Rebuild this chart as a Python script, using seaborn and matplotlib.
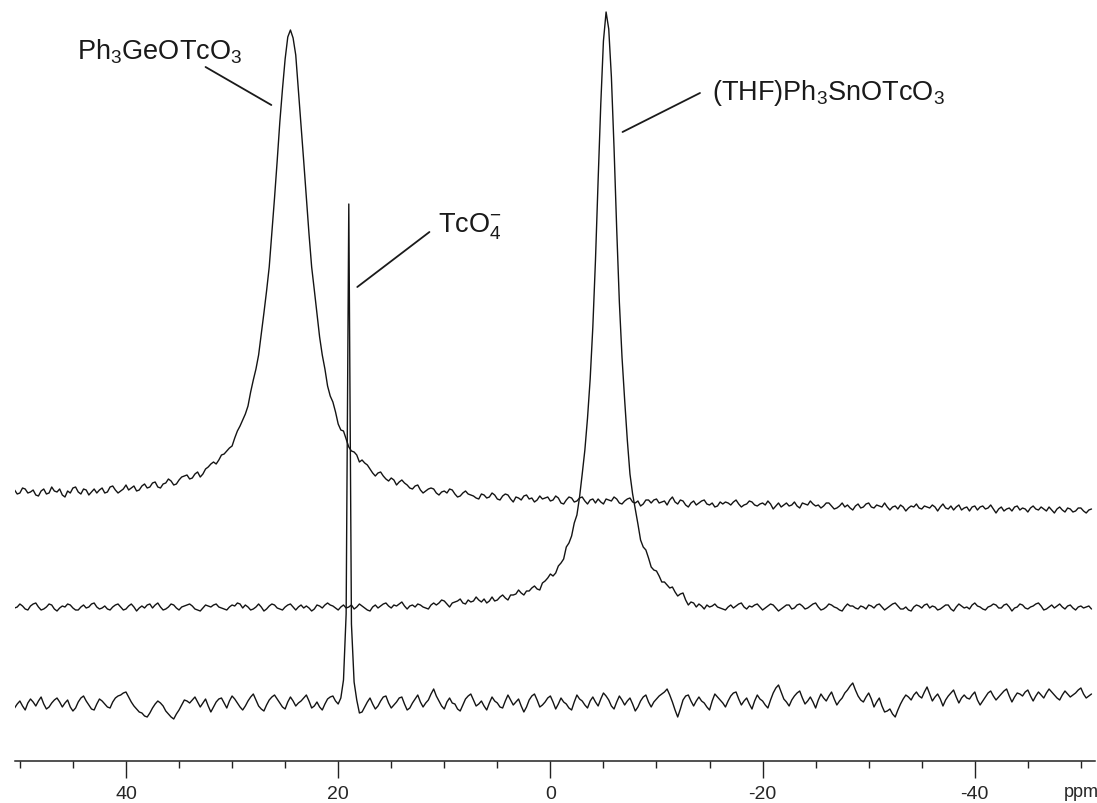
import numpy as np
import pandas as pd
import matplotlib
matplotlib.use("Agg")
import matplotlib.pyplot as plt
import seaborn as sns

# --- spectra (px above each trace's own baseline)
# *_TRACE: samples every 0.5 ppm from 50.5 ppm; *_MID: the samples between them
PPM_START = 50.5
PPM_STEP = -0.5

GE_TRACE = [
    5, 2, 6, 3, 0, 4, 1, 8, 3, 0,
    4, 7, 3, 6, 0, 6, 5, 2, 8, 5,
    4, 10, 7, 4, 9, 7, 12, 8, 11, 16,
    10, 15, 19, 16, 21, 18, 26, 31, 31, 40,
    44, 49, 64, 75, 89, 115, 140, 182, 228, 297,
    373, 436, 465, 440, 369, 297, 228, 181, 140, 109,
    93, 71, 64, 48, 43, 33, 32, 26, 19, 23,
    16, 17, 10, 15, 10, 6, 10, 2, 6, 6,
    0, 4, 6, 1, -1, 4, 0, -3, 1, -3,
    2, -4, -1, 0, -7, -3, -1, -4, -7, -1,
    -3, -6, -1, -8, -5, -3, -6, -2, -9, -4,
    -4, -9, -5, -2, -8, -6, -3, -8, -11, -5,
    -8, -4, -7, -10, -2, -9, -6, -12, -6, -8,
    -5, -10, -12, -7, -7, -10, -5, -12, -9, -7,
    -11, -8, -6, -14, -8, -10, -11, -7, -13, -9,
    -6, -11, -13, -8, -11, -13, -8, -10, -15, -9,
    -12, -8, -13, -11, -8, -15, -11, -10, -16, -11,
    -9, -14, -12, -10, -16, -9, -14, -15, -10, -13,
    -16, -11, -12, -14, -10, -18, -12, -14, -16, -11,
    -13, -17, -11, -15, -14, -12, -18, -12, -17, -14,
    -16, -13, -18, -14,
]
GE_MID = [
    1, 7, 2, 5, -1, 6, 2, 4, 6, -2,
    2, 8, 1, 5, 3, 2, 7, 3, 9, 2,
    6, 5, 9, 5, 11, 8, 13, 7, 12, 14,
    11, 18, 20, 17, 23, 21, 28, 33, 35, 41,
    47, 57, 69, 81, 103, 126, 161, 204, 262, 334,
    406, 458, 457, 405, 334, 261, 205, 158, 126, 99,
    83, 65, 56, 44, 40, 35, 30, 22, 22, 19,
    14, 15, 13, 12, 7, 9, 5, 4, 7, 2,
    3, 2, 5, -2, 2, 1, -1, -4, 0, -2,
    0, -5, 1, -4, -2, -5, 0, -3, -5, -4,
    -2, -5, -3, -9, -2, -7, -3, -6, -5, -8,
    -7, -4, -6, -4, -9, -4, -7, -6, -9, -5,
    -5, -8, -6, -5, -7, -5, -10, -8, -10, -6,
    -9, -8, -11, -9, -8, -7, -9, -10, -6, -10,
    -9, -10, -9, -11, -12, -8, -10, -11, -8, -10,
    -9, -10, -11, -8, -14, -11, -12, -13, -11, -13,
    -9, -12, -10, -12, -12, -12, -14, -12, -13, -12,
    -13, -11, -13, -12, -12, -13, -11, -12, -15, -12,
    -12, -15, -11, -13, -14, -14, -16, -13, -12, -15,
    -14, -13, -14, -12, -16, -15, -14, -15, -13, -17,
    -13, -16, -15,
]

SN_TRACE = [
    -1, 3, -2, 1, 4, -3, 0, 2, -4, 1,
    3, -1, -3, 2, 0, 4, -2, 1, -3, 2,
    0, -2, 3, -4, 1, 2, -1, 4, -3, 0,
    2, -3, 1, 3, -2, -4, 2, 0, 3, -1,
    -3, 2, 4, -1, 0, -2, 3, -4, 1, 2,
    -2, 0, 3, -3, 2, 1, -4, 2, -1, 4,
    1, -3, 2, 0, -2, 3, -1, -4, 2, 1,
    4, -1, 1, 5, -2, 2, 3, 0, -2, 4,
    4, 6, 0, 5, 8, 3, 5, 10, 5, 4,
    10, 7, 12, 7, 12, 17, 12, 16, 21, 17,
    26, 33, 34, 44, 60, 71, 92, 133, 189, 280,
    427, 566, 578, 459, 305, 207, 133, 98, 67, 57,
    40, 36, 25, 22, 20, 11, 14, 2, 4, 3,
    -2, 0, 3, -1, -3, 2, 1, 4, -2, 0,
    3, -3, 1, 2, -4, 0, 2, -1, 3, -2,
    1, 4, -3, 0, 2, -1, -4, 3, 1, -2,
    0, 2, -1, 3, -3, 1, 4, -2, 0, -4,
    2, -1, 3, 1, -3, 0, 2, -4, 3, -1,
    -2, 4, 0, -3, 1, 2, -1, 3, -4, 0,
    2, -2, 1, 4, -3, 0, -1, 3, -2, 2,
    -3, 1, 0, -2,
]
SN_MID = [
    0, 1, -3, 3, 0, -2, 3, -2, -1, 0,
    2, -3, 0, -1, 3, 0, -1, -2, 0, 3,
    -3, 1, 0, -1, -1, 3, 2, 0, -2, 3,
    -1, 0, 2, 1, -3, -1, 1, 2, 0, -2,
    0, 1, 3, 2, -3, 0, 0, -2, 3, -1,
    -3, 2, 0, 0, -1, -1, -2, 1, 2, 2,
    -1, 0, -1, 2, 0, 1, -3, 0, -1, 3,
    1, 2, 3, 1, 1, 0, 2, -1, 2, 2,
    7, 3, 4, 6, 4, 7, 6, 7, 8, 6,
    6, 10, 9, 12, 13, 14, 16, 19, 18, 24,
    29, 31, 41, 48, 64, 84, 110, 157, 228, 347,
    503, 595, 530, 378, 250, 167, 113, 83, 60, 49,
    37, 31, 25, 19, 15, 13, 7, 5, 0, 1,
    2, 1, 0, -2, 0, -1, 3, 0, 1, 2,
    0, -1, 3, -1, -2, 2, -2, 2, 1, -1,
    3, 0, -2, 3, 0, -3, 0, 1, -1, 1,
    -2, 1, 2, 0, -1, 3, 1, -2, -3, 0,
    1, 2, -1, 0, -2, 2, -2, 0, 1, 0,
    2, 1, -2, 0, 3, -1, 2, 0, -1, 3,
    -1, 0, 3, 1, -2, 2, 1, 0, 1, -1,
    0, -1, 1,
]

TCO4_TRACE = [
    -4, 3, -6, 5, -2, 7, -5, 1, 6, -3,
    4, -7, 2, 8, -1, -6, 5, 0, -4, 6,
    9, 12, 2, -5, -9, -13, -4, 3, -2, -10,
    -15, -6, 4, 1, 7, -3, 5, -8, 2, 6,
    -4, 8, 1, -6, 3, 10, -2, -7, 4, 9,
    1, -5, 7, -2, 3, 9, -4, 2, -6, 5,
    8, 0, 24, 500, 22, -9, -3, 6, -5, 3,
    8, -4, 2, 7, -6, 1, 9, -3, 4, 15,
    3, -5, 6, 0, -7, 5, 10, -2, 3, -6,
    7, 1, -4, 9, -1, 5, -8, 4, 10, -3,
    2, 8, -5, 6, 0, -6, 9, 3, -4, 7,
    -2, 11, 4, -5, 8, -1, 6, -7, 3, 9,
    -3, 5, 10, 15, 2, -13, 4, 9, -2, 7,
    1, -6, 10, 4, -3, 8, 12, -1, 6, -5,
    9, 3, -4, 11, 19, 5, -2, 8, 13, 0,
    7, -4, 10, 3, 12, -1, 6, 14, 21, 8,
    2, 11, -3, 6, -8, -5, -13, 0, 9, 4,
    12, 6, 17, 3, 10, -2, 8, 14, 1, 9,
    5, 12, -1, 7, 13, 4, 10, 15, 2, 11,
    8, 14, 3, 12, 6, 15, 9, 4, 13, 7,
    11, 16, 6, 10,
]
TCO4_MID = [
    0, -2, 1, 2, 3, 0, -3, 4, 2, 1,
    -3, -4, 6, 3, -5, 0, 3, -3, 2, 8,
    11, 7, -2, -8, -12, -9, 0, 1, -7, -13,
    -10, -1, 3, 4, 2, 1, -2, -3, 5, 1,
    3, 5, -3, -2, 7, 4, -5, -1, 7, 5,
    -3, 2, 3, 1, 6, 3, -2, -3, 0, 7,
    3, 6, 90, 80, 4, -8, 2, 0, -2, 7,
    1, -1, 6, 0, -4, 5, 2, 1, 10, 8,
    -2, 2, 1, -5, -1, 8, 4, 0, -2, 1,
    3, -3, 3, 4, 2, -2, -3, 8, 4, -1,
    6, 2, 0, 2, -4, 2, 5, -1, 3, 2,
    5, 8, -2, 2, 4, 3, 0, -3, 7, 2,
    2, 8, 12, 9, -6, -5, 8, 3, 3, 3,
    -3, 3, 7, 1, 3, 11, 5, 3, 0, 3,
    5, -1, 4, 16, 12, 2, 4, 11, 6, 3,
    2, 4, 6, 8, 5, 3, 11, 18, 14, 4,
    7, 5, 2, -2, -7, -10, -6, 5, 7, 9,
    8, 12, 10, 7, 5, 4, 11, 7, 6, 6,
    9, 4, 3, 11, 8, 7, 13, 8, 7, 10,
    12, 8, 8, 9, 11, 12, 6, 9, 10, 9,
    14, 10, 8,
]

TRACE_NAMES = ["Ge", "Sn", "TcO4"]
TRACE_OFFSETS = [266, 154, 57]

MAJOR_TICKS = [40, 20, 0, -20, -40]
MAJOR_LABELS = ["40", "20", "0", "-20", "-40"]
MINOR_TICKS = list(range(50, -55, -5))

# labels: (text, x ppm, y, leader from, leader to)
LABELS = [
    ("Ph$_3$GeOTcO$_3$", 44.6, 702, (32.5, 694), (26.3, 656)),
    ("(THF)Ph$_3$SnOTcO$_3$", -15.2, 662, (-14.1, 668), (-6.8, 629)),
    ("TcO$_4^{-}$", 10.6, 529, (11.4, 529), (18.2, 474)),
]

# ---------------------------------------------------------------------------
sns.set_theme(style="white")
plt.rcParams["font.family"] = ["Liberation Sans", "DejaVu Sans"]
plt.rcParams["mathtext.fontset"] = "custom"
plt.rcParams["mathtext.rm"] = "Liberation Sans"
plt.rcParams["mathtext.it"] = "Liberation Sans:italic"

frames = []
for name, vals, mids, off in zip(TRACE_NAMES,
                                 [GE_TRACE, SN_TRACE, TCO4_TRACE],
                                 [GE_MID, SN_MID, TCO4_MID],
                                 TRACE_OFFSETS):
    assert len(mids) == len(vals) - 1
    y = np.empty(2 * len(vals) - 1)
    y[0::2] = vals
    y[1::2] = mids
    ppm = PPM_START + (PPM_STEP / 2) * np.arange(len(y))
    frames.append(pd.DataFrame({"ppm": ppm, "y": y + off, "trace": name}))
df = pd.concat(frames, ignore_index=True)

fig = plt.figure(figsize=(10.97, 8.04), dpi=100)
ax = fig.add_axes([15 / 1097, 42 / 804, 1080 / 1097, 762 / 804])

sns.lineplot(data=df, x="ppm", y="y", units="trace", estimator=None,
             sort=False, color="#141414", linewidth=1.0, ax=ax, legend=False)

ax.set_xlim(50.46, -51.33)
ax.set_ylim(0, 762)
for side in ("top", "left", "right"):
    ax.spines[side].set_visible(False)
ax.spines["bottom"].set_color("#222222")
ax.spines["bottom"].set_linewidth(1.1)
ax.set_yticks([])
ax.set_xlabel("")
ax.set_ylabel("")

ax.set_xticks(MAJOR_TICKS)
ax.set_xticklabels(MAJOR_LABELS)
ax.set_xticks(MINOR_TICKS, minor=True)
ax.tick_params(axis="x", which="major", length=12, width=1.0,
               direction="out", pad=5, labelsize=14, color="#222222",
               bottom=True)
ax.tick_params(axis="x", which="minor", length=5, width=1.0,
               direction="out", color="#222222", bottom=True)
ax.text(-50.0, -0.040, "ppm", transform=ax.get_xaxis_transform(),
        ha="center", va="center", fontsize=13)

for text, tx, ty, p0, p1 in LABELS:
    ax.text(tx, ty, text, ha="left", va="baseline", fontsize=19.5,
            color="#1a1a1a")
    ax.plot([p0[0], p1[0]], [p0[1], p1[1]], color="#1a1a1a", lw=1.3)

fig.savefig("out.png", dpi=100)
plt.close(fig)
